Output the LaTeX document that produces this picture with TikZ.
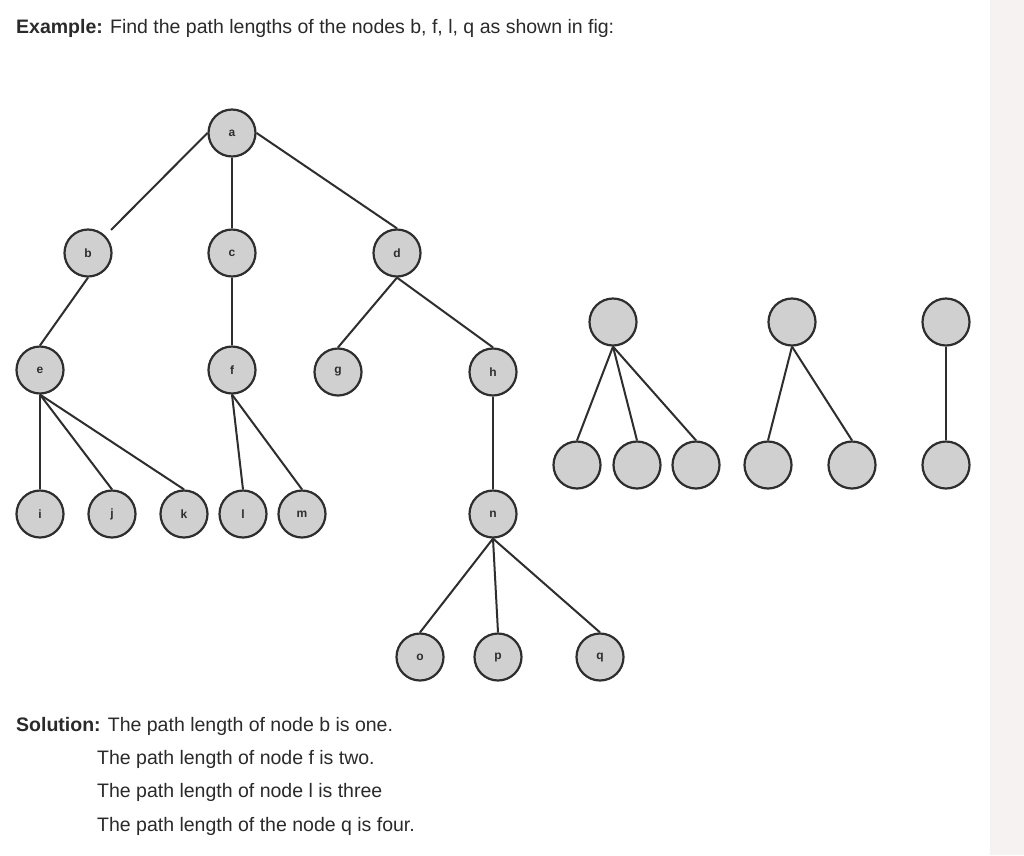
\documentclass[tikz,border=0pt]{standalone}
\usepackage{fontspec}
\setmainfont{Liberation Sans}
\definecolor{txt}{HTML}{2A2A2A}
\definecolor{nodefill}{HTML}{D0D0D0}
\definecolor{nodeline}{HTML}{2E2E2E}
\definecolor{strip}{HTML}{F6F2F1}
\begin{document}
\begin{tikzpicture}[x=1pt,y=-1pt,
  tn/.style={circle,draw=nodeline,fill=nodefill,line width=2.2pt,minimum size=47pt,inner sep=0pt,
    font=\fontsize{12}{13}\selectfont\bfseries,text=nodeline},
  edge/.style={draw=nodeline,line width=2pt},
  txtstyle/.style={anchor=base west,inner sep=0pt,text=txt,font=\fontsize{19.5}{22}\selectfont}]
\useasboundingbox (0,0) rectangle (1024,855);
\fill[white] (0,0) rectangle (990,855);
\fill[strip] (990,0) rectangle (1024,855);

\node[txtstyle] (title) at (16,33) {\textbf{Example:} Find the path lengths of the nodes b, f, l, q as shown in fig:};

% main tree
\node[tn] (a) at (232,133) {a};
\node[tn] (b) at (88,253) {b};
\node[tn] (c) at (232,253) {c};
\node[tn] (d) at (397,253) {d};
\node[tn] (e) at (40,370) {e};
\node[tn] (f) at (232,370) {f};
\node[tn] (g) at (338,372) {g};
\node[tn] (h) at (493,372) {h};
\node[tn] (i) at (40,514) {i};
\node[tn] (j) at (112,514) {j};
\node[tn] (k) at (184,514) {k};
\node[tn] (l) at (243,514) {l};
\node[tn] (m) at (302,514) {m};
\node[tn] (n) at (493,514) {n};
\node[tn] (o) at (420,657) {o};
\node[tn] (p) at (498,657) {p};
\node[tn] (q) at (600,657) {q};

\draw[edge,shorten >=8pt] (a.west) -- (b.north east);
\draw[edge] (a.south) -- (c.north);
\draw[edge] (a.east) -- (d.north);
\draw[edge] (b.south) -- (e.north);
\draw[edge] (c.south) -- (f.north);
\draw[edge] (d.south) -- (g.north);
\draw[edge] (d.south) -- (h.north);
\draw[edge] (e.south) -- (i.north);
\draw[edge] (e.south) -- (j.north);
\draw[edge] (e.south) -- (k.north);
\draw[edge] (f.south) -- (l.north);
\draw[edge] (f.south) -- (m.north);
\draw[edge] (h.south) -- (n.north);
\draw[edge] (n.south) -- (o.north);
\draw[edge] (n.south) -- (p.north);
\draw[edge] (n.south) -- (q.north);

% small trees on the right
\node[tn] (r1) at (613,322) {};
\node[tn] (r2) at (792,322) {};
\node[tn] (r3) at (946,322) {};
\node[tn] (s1) at (577,465) {};
\node[tn] (s2) at (637,465) {};
\node[tn] (s3) at (696,465) {};
\node[tn] (s4) at (768,465) {};
\node[tn] (s5) at (852,465) {};
\node[tn] (s6) at (946,465) {};
\draw[edge] (r1.south) -- (s1.north);
\draw[edge] (r1.south) -- (s2.north);
\draw[edge] (r1.south) -- (s3.north);
\draw[edge] (r2.south) -- (s4.north);
\draw[edge] (r2.south) -- (s5.north);
\draw[edge] (r3.south) -- (s6.north);

% solution
\node[txtstyle] (sol1) at (16,731) {\textbf{Solution:} The path length of node b is one.};
\node[txtstyle] (sol2) at (97,764) {The path length of node f is two.};
\node[txtstyle] (sol3) at (97,797) {The path length of node l is three};
\node[txtstyle] (sol4) at (97,831) {The path length of the node q is four.};
\end{tikzpicture}
\end{document}
